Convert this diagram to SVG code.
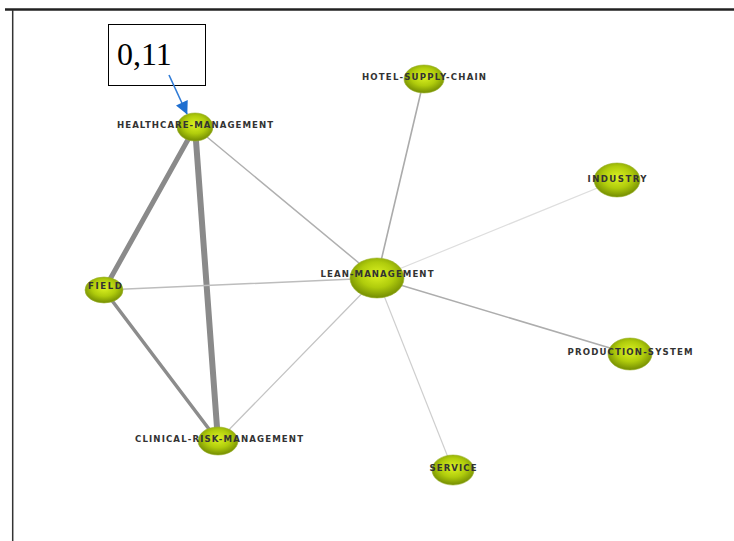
<svg xmlns="http://www.w3.org/2000/svg" width="734" height="541" viewBox="0 0 734 541">
<style>
.lbl{font-family:"DejaVu Sans",sans-serif;font-size:8.6px;font-weight:bold;fill:#333;text-anchor:middle}
.node{fill:url(#g);stroke:#9bb22a;stroke-width:0.6}
.e{fill:none;stroke-linecap:round}
</style>
<defs>
<radialGradient id="g" cx="50%" cy="42%" r="58%">
<stop offset="0" stop-color="#dcf222"/>
<stop offset="0.55" stop-color="#b0cc0c"/>
<stop offset="1" stop-color="#738c02"/>
</radialGradient>
<marker id="ah" viewBox="0 0 10 10" refX="9.5" refY="5" markerWidth="15" markerHeight="13" orient="auto" markerUnits="userSpaceOnUse">
<path d="M0,0 L10,5 L0,10 z" fill="#1f6fd0"/>
</marker>
</defs>
<rect width="734" height="541" fill="#ffffff"/>
<g id="frame">
<line x1="5" y1="9.5" x2="734" y2="9.5" stroke="#222" stroke-width="2.5"/>
<line x1="12.7" y1="10" x2="12.7" y2="541" stroke="#333" stroke-width="1.5"/>
</g>
<g id="connectors">
<line class="e" x1="195" y1="127" x2="104" y2="290" stroke="#8a8a8a" stroke-width="5"/>
<line class="e" x1="195" y1="127" x2="218" y2="441" stroke="#8a8a8a" stroke-width="6"/>
<line class="e" x1="104" y1="290" x2="218" y2="441" stroke="#8c8c8c" stroke-width="3.5"/>
<line class="e" x1="195" y1="127" x2="377" y2="278" stroke="#b0b0b0" stroke-width="1.5"/>
<line class="e" x1="104" y1="290" x2="377" y2="278" stroke="#bdbdbd" stroke-width="1.5"/>
<line class="e" x1="218" y1="441" x2="377" y2="278" stroke="#c4c4c4" stroke-width="1.3"/>
<line class="e" x1="377" y1="278" x2="424" y2="79" stroke="#ababab" stroke-width="1.6"/>
<line class="e" x1="377" y1="278" x2="617" y2="180" stroke="#dedede" stroke-width="1.2"/>
<line class="e" x1="377" y1="278" x2="630" y2="354" stroke="#adadad" stroke-width="1.5"/>
<line class="e" x1="377" y1="278" x2="453" y2="470" stroke="#cfcfcf" stroke-width="1.2"/>
</g>
<g id="n-healthcare">
<ellipse class="node" cx="195" cy="127" rx="18" ry="14"/>
<text class="lbl" x="195" y="127.5" textLength="156" lengthAdjust="spacing">HEALTHCARE-MANAGEMENT</text>
</g>
<g id="n-hotel">
<ellipse class="node" cx="424" cy="79" rx="20" ry="14"/>
<text class="lbl" x="424" y="80" textLength="124" lengthAdjust="spacing">HOTEL-SUPPLY-CHAIN</text>
</g>
<g id="n-industry">
<ellipse class="node" cx="617" cy="180" rx="23" ry="17"/>
<text class="lbl" x="617" y="181.5" textLength="59" lengthAdjust="spacing">INDUSTRY</text>
</g>
<g id="n-lean">
<ellipse class="node" cx="377" cy="278" rx="27" ry="20"/>
<text class="lbl" x="377" y="277" textLength="113" lengthAdjust="spacing">LEAN-MANAGEMENT</text>
</g>
<g id="n-field">
<ellipse class="node" cx="104" cy="290" rx="19" ry="13"/>
<text class="lbl" x="105" y="289" textLength="34" lengthAdjust="spacing">FIELD</text>
</g>
<g id="n-production">
<ellipse class="node" cx="630" cy="354" rx="22" ry="16"/>
<text class="lbl" x="630" y="354.5" textLength="125" lengthAdjust="spacing">PRODUCTION-SYSTEM</text>
</g>
<g id="n-clinical">
<ellipse class="node" cx="218" cy="441" rx="20" ry="14"/>
<text class="lbl" x="219" y="442" textLength="168" lengthAdjust="spacing">CLINICAL-RISK-MANAGEMENT</text>
</g>
<g id="n-service">
<ellipse class="node" cx="453" cy="470" rx="21" ry="15"/>
<text class="lbl" x="453" y="471" textLength="47" lengthAdjust="spacing">SERVICE</text>
</g>
<g id="callout">
<rect x="108.5" y="24.5" width="97" height="61" fill="#fff" stroke="#000" stroke-width="1"/>
<text x="117" y="65" font-family="Liberation Serif,serif" font-size="32" fill="#000">0,11</text>
<line x1="169" y1="75" x2="187" y2="114" stroke="#2f7bd6" stroke-width="1.6" marker-end="url(#ah)"/>
</g>
</svg>
